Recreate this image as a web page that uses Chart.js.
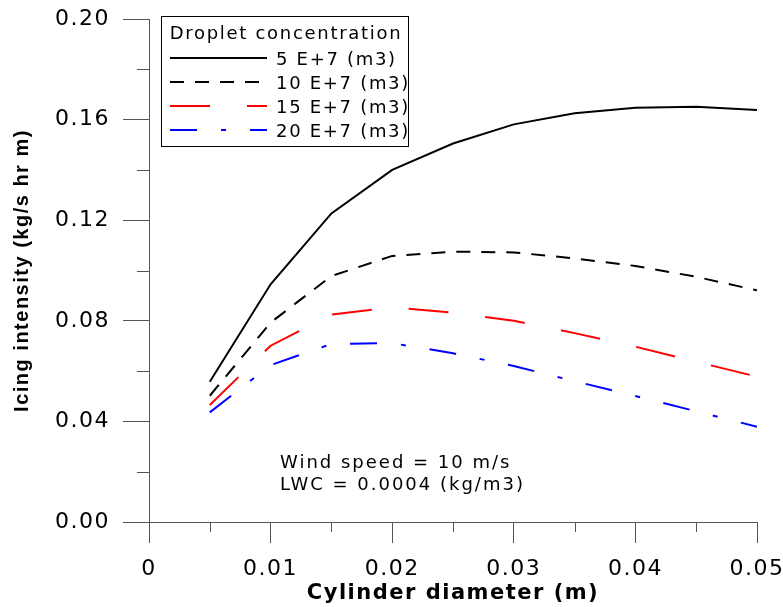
<!DOCTYPE html>
<html lang="en">
<head>
<meta charset="UTF-8">
<title>Icing intensity</title>
<script src="https://cdn.jsdelivr.net/npm/chart.js"></script>
<style>
    body { margin: 0; background: #fff; }
    canvas { display: block; }
</style>
</head>
<body>
<canvas id="chart" width="783" height="607"></canvas>
<script>
// cylinder diameter (m)
const diameter = [0.005, 0.01, 0.015, 0.02, 0.025, 0.03, 0.035, 0.04, 0.045, 0.05];

// icing intensity (kg/s hr m) per droplet concentration
const conc5  = [0.0558, 0.0945, 0.1227, 0.1400, 0.1505, 0.1581, 0.1625, 0.1647, 0.1651, 0.1638];
const conc10 = [0.0502, 0.0793, 0.0978, 0.1058, 0.1075, 0.1072, 0.1048, 0.1018, 0.0975, 0.0921];
const conc15 = [0.0465, 0.0701, 0.0825, 0.0854, 0.0832, 0.0800, 0.0751, 0.0697, 0.0637, 0.0578];
const conc20 = [0.0436, 0.0624, 0.0708, 0.0711, 0.0671, 0.0620, 0.0560, 0.0501, 0.0440, 0.0379];

const seriesLabels = ['5 E+7 (m3)', '10 E+7 (m3)', '15 E+7 (m3)', '20 E+7 (m3)'];
const legendTitle = 'Droplet concentration';
const noteLines = ['Wind speed = 10 m/s', 'LWC = 0.0004 (kg/m3)'];

const axisColor = '#555';
const tickFont = { family: 'DejaVu Sans', size: 22 };

function series(values) {
    return values.map((v, i) => ({ x: diameter[i], y: v }));
}

// stretched look of the original text
const spacing = {
    id: 'spacing',
    beforeDraw(chart) {
        chart.ctx.letterSpacing = '1.5px';
    }
};

// minor ticks, legend box and the note
const extras = {
    id: 'extras',
    afterDraw(chart) {
        const ctx = chart.ctx;
        const xs = chart.scales.x;
        const ys = chart.scales.y;
        ctx.save();
        ctx.strokeStyle = axisColor;
        ctx.lineWidth = 1;
        ctx.beginPath();
        for (let k = 0; k < 5; k++) {
            const py = Math.round(ys.getPixelForValue(0.02 + 0.04 * k)) + 0.5;
            ctx.moveTo(xs.left - 12, py);
            ctx.lineTo(xs.left, py);
            const px = Math.round(xs.getPixelForValue(0.005 + 0.01 * k)) + 0.5;
            ctx.moveTo(px, ys.bottom);
            ctx.lineTo(px, ys.bottom + 10);
        }
        ctx.stroke();

        // legend
        ctx.strokeStyle = '#000';
        ctx.strokeRect(161.5, 16.5, 247, 130);
        ctx.fillStyle = '#000';
        ctx.letterSpacing = '1.7px';
        ctx.font = '18px "DejaVu Sans"';
        ctx.textAlign = 'center';
        ctx.textBaseline = 'alphabetic';
        ctx.fillText(legendTitle, 286, 39);
        ctx.textAlign = 'left';
        chart.data.datasets.forEach((ds, i) => {
            const base = 65 + 24 * i;
            ctx.save();
            ctx.strokeStyle = ds.borderColor;
            ctx.lineWidth = ds.borderWidth;
            ctx.setLineDash(ds.borderDash || []);
            ctx.beginPath();
            ctx.moveTo(170, base - 7);
            ctx.lineTo(267, base - 7);
            ctx.stroke();
            ctx.restore();
            ctx.fillText(ds.label, 276, base);
        });

        // note
        ctx.letterSpacing = '2px';
        ctx.font = '18px "DejaVu Sans"';
        ctx.fillText(noteLines[0], 280, 467.5);
        ctx.fillText(noteLines[1], 280, 490);
        ctx.restore();
    }
};

const ctx = document.getElementById('chart').getContext('2d');
new Chart(ctx, {
    type: 'line',
    data: {
        datasets: [
            { label: seriesLabels[0], data: series(conc5),  borderColor: '#000000', borderWidth: 2 },
            { label: seriesLabels[1], data: series(conc10), borderColor: '#000000', borderWidth: 2, borderDash: [14, 11] },
            { label: seriesLabels[2], data: series(conc15), borderColor: '#ff0000', borderWidth: 2, borderDash: [40, 37] },
            { label: seriesLabels[3], data: series(conc20), borderColor: '#0000ff', borderWidth: 2, borderDash: [27, 24, 5, 24] }
        ]
    },
    options: {
        responsive: false,
        animation: false,
        devicePixelRatio: 1,
        layout: { padding: { left: 0, top: 19, right: 26, bottom: 0 } },
        elements: {
            point: { radius: 0 },
            line: { tension: 0, fill: false }
        },
        plugins: {
            legend: { display: false },
            tooltip: { enabled: false }
        },
        scales: {
            x: {
                type: 'linear',
                min: 0,
                max: 0.05,
                afterFit(s) { s.height = 85; s.paddingLeft = 0; s.paddingRight = 0; },
                ticks: {
                    stepSize: 0.01,
                    padding: 13,
                    color: '#000',
                    font: tickFont,
                    maxRotation: 0,
                    callback: v => v === 0 ? '0' : v.toFixed(2)
                },
                grid: { drawOnChartArea: false, tickLength: 21, color: axisColor },
                border: { color: axisColor },
                title: {
                    display: true,
                    text: 'Cylinder diameter (m)',
                    color: '#000',
                    font: { family: 'DejaVu Sans', size: 21, weight: 'bold' },
                    padding: { top: 0, bottom: 1 }
                }
            },
            y: {
                min: 0,
                max: 0.2,
                afterFit(s) { s.width = 149; s.paddingTop = 0; s.paddingBottom = 0; },
                ticks: {
                    stepSize: 0.04,
                    padding: 13,
                    color: '#000',
                    font: tickFont,
                    callback: v => v.toFixed(2)
                },
                grid: { drawOnChartArea: false, tickLength: 26, color: axisColor },
                border: { color: axisColor },
                title: {
                    display: true,
                    text: 'Icing intensity (kg/s hr m)',
                    color: '#000',
                    font: { family: 'Liberation Sans', size: 20, weight: 'bold' },
                    padding: { top: 10, bottom: 0 }
                }
            }
        }
    },
    plugins: [spacing, extras]
});
</script>
</body>
</html>
